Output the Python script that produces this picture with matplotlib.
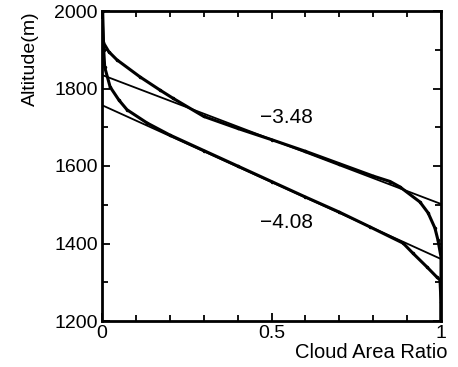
import numpy as np
import matplotlib
matplotlib.use('Agg')
import matplotlib.pyplot as plt
from matplotlib.ticker import MultipleLocator

plt.rcParams['font.family'] = ['Liberation Sans', 'DejaVu Sans']

# upper profile (fit slope -3.48)
upper_x = [0.0, 0.003, 0.02, 0.044, 0.112, 0.171, 0.209, 0.3, 0.4, 0.5, 0.6, 0.7,
           0.8, 0.85, 0.879, 0.938, 0.962, 0.982, 0.991, 1.0, 1.0]
upper_y = [2000, 1920, 1895, 1874, 1830, 1796, 1775, 1728, 1697, 1668, 1638, 1606,
           1574, 1560, 1546, 1507, 1479, 1440, 1409, 1365, 1200]

# lower profile (fit slope -4.08)
lower_x = [0.002, 0.005, 0.008, 0.024, 0.05, 0.074, 0.133, 0.2, 0.3, 0.4, 0.5, 0.6,
           0.7, 0.79, 0.888, 0.917, 0.959, 0.988, 0.997, 1.0, 1.0]
lower_y = [2000, 1900, 1855, 1804, 1770, 1745, 1711, 1680, 1640, 1600, 1560, 1520,
           1481, 1443, 1401, 1375, 1339, 1313, 1306, 1250, 1200]

# fitted lines (end points)
fit1_x = [0.0, 1.0]
fit1_y = [1835, 1502]
fit2_x = [0.0, 1.0]
fit2_y = [1757, 1360]

fig = plt.figure(figsize=(4.58, 3.67), dpi=100)
ax = fig.add_axes([102 / 458, 46 / 367, 339 / 458, 310 / 367])

ax.plot(upper_x, upper_y, color='black', lw=2.2, marker='.', ms=3)
ax.plot(lower_x, lower_y, color='black', lw=2.2, marker='.', ms=3)
ax.plot(fit1_x, fit1_y, color='black', lw=1.3)
ax.plot(fit2_x, fit2_y, color='black', lw=1.3)

ax.text(0.545, 1724, '\u22123.48', fontsize=15, ha='center', va='center')
ax.text(0.545, 1453, '\u22124.08', fontsize=15, ha='center', va='center')

ax.set_xlim(0, 1)
ax.set_ylim(1200, 2000)
ax.set_xticks([0, 0.5, 1])
ax.set_xticklabels(['0', '0.5', '1'])
ax.set_yticks([1200, 1400, 1600, 1800, 2000])
ax.xaxis.set_minor_locator(MultipleLocator(0.1))
ax.yaxis.set_minor_locator(MultipleLocator(100))
ax.tick_params(which='both', direction='in', top=True, right=True,
               labelsize=14, width=1.3)
ax.tick_params(which='major', length=6, pad=3)
ax.tick_params(which='minor', length=4)
for s in ax.spines.values():
    s.set_linewidth(2)

ax.set_ylabel('Altitude(m)', fontsize=14)
ax.yaxis.set_label_coords(-0.236, 1.0)
ax.yaxis.label.set_va('top')
ax.yaxis.label.set_ha('right')
ax.text(1.02, -0.1, 'Cloud Area Ratio', transform=ax.transAxes,
        fontsize=14.5, ha='right', va='center')

fig.savefig('out.png', dpi=100)
